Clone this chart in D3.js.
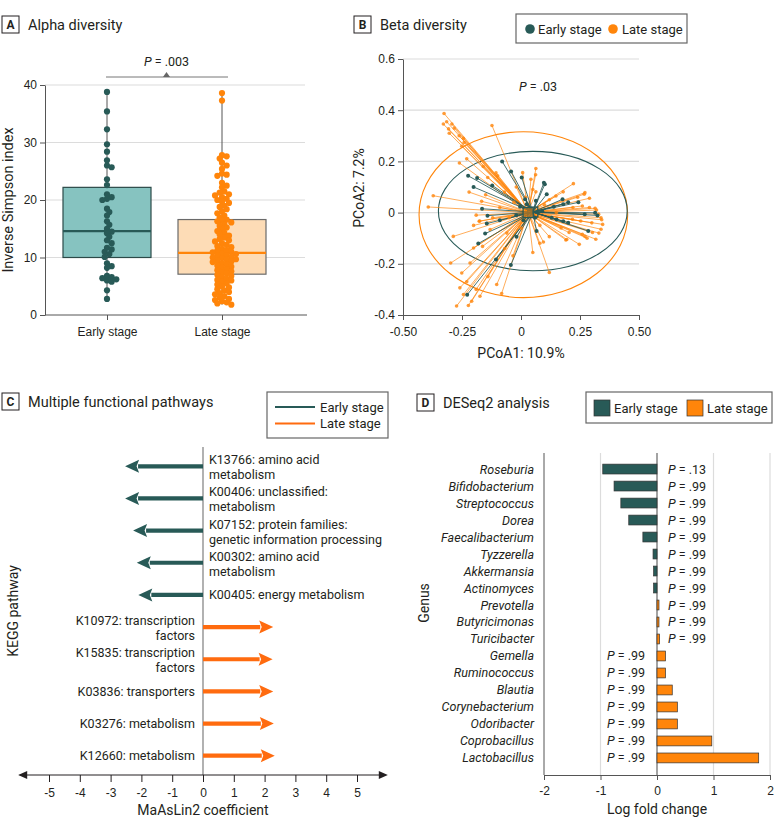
<!DOCTYPE html>
<html>
<head>
<meta charset="utf-8">
<script src="https://cdn.jsdelivr.net/npm/d3@7"></script>
<style>
  body { margin: 0; background: #fff; }
  svg { display: block; font-family: Roboto, "Liberation Sans", sans-serif; }
  .tick text { font-size: 12px; fill: #231f20; }
</style>
</head>
<body>
<svg id="fig" width="783" height="830"></svg>
<script>
// ---------- data ----------
// A: alpha diversity
const groups = ["Early stage", "Late stage"];
const earlySimpson = [38.8, 35.4, 32.3, 29.7, 28.4, 26.9, 26.0, 25.7, 23.6, 22.6, 21.0, 20.5, 20.2, 20.0,
  18.5, 17.9, 17.3, 16.3, 15.7, 15.0, 14.5, 14.2, 13.6, 13.0, 12.5, 11.7, 11.4, 11.0, 10.6, 10.1,
  9.0, 8.5, 8.2, 6.8, 6.6, 6.4, 6.2, 6.0, 5.8, 4.3, 2.8];
const lateSimpson = [38.6, 37.3, 27.8, 27.6, 27.2, 26.5, 26.0, 25.4, 24.6, 24.4, 24.2, 23.0, 22.5, 22.2,
  21.5, 21.3, 21.0, 20.8, 20.5, 20.2, 20.0, 19.7, 19.5, 19.0, 18.8, 18.4, 18.0, 17.7, 17.3, 17.0,
  16.6, 16.4, 16.3, 16.1, 15.8, 15.5, 15.2, 14.9, 14.6, 14.3, 14.0, 13.8, 13.5, 13.2, 13.0, 12.8,
  12.5, 12.2, 12.0, 11.8, 11.5, 11.3, 11.2, 11.0, 10.9, 10.7, 10.6, 10.4, 10.3, 10.1, 10.0, 9.9,
  9.7, 9.6, 9.5, 9.3, 9.2, 9.0, 8.8, 8.6, 8.4, 8.2, 8.0, 7.8, 7.6, 7.4, 7.2, 7.0, 6.8, 6.6, 6.3,
  6.1, 6.0, 5.8, 5.5, 5.3, 5.0, 4.8, 4.5, 4.3, 4.0, 3.8, 3.6, 3.3, 3.0, 2.8, 2.6, 2.4, 2.2, 2.0, 1.8];
const boxQ1 = [10.0, 7.1];
const boxMedian = [14.6, 10.8];
const boxQ3 = [22.2, 16.6];
const whiskerLow = [2.8, 1.8];
const whiskerHigh = [38.8, 38.6];
const alphaTicks = [0, 10, 20, 30, 40];

// B: beta diversity (PCoA1, PCoA2)
const earlyPoints = [[-0.080,0.200],[-0.042,0.161],[-0.224,0.144],[-0.186,0.135],[-0.122,0.106],[-0.201,0.100],
  [-0.165,0.015],[-0.142,-0.012],[-0.145,-0.043],[-0.152,-0.082],[-0.181,-0.121],[-0.106,-0.183],[-0.043,-0.205],
  [-0.019,-0.094],[-0.228,-0.321],[0.003,0.137],[0.097,0.117],[0.101,0.111],[0.109,0.072],[0.063,0.046],
  [0.139,0.023],[0.176,0.052],[0.200,0.040],[0.243,0.040],[0.179,0.033],[0.270,-0.006],[0.314,-0.001],
  [0.324,-0.011],[0.285,-0.072],[0.179,-0.034],[0.151,-0.027],[0.066,-0.072],[-0.004,0.023],[0.024,0.033],
  [0.017,0.052],[0.040,0.015],[0.060,-0.020],[-0.020,-0.010],[0.090,0.005],[0.130,-0.020],[0.010,-0.030],
  [-0.090,-0.030],[0.200,-0.040]];
const latePoints = [[-0.326,0.387],[-0.329,0.346],[-0.293,0.346],[-0.307,0.327],[-0.283,0.330],[-0.304,0.310],
  [-0.244,0.290],[-0.241,0.274],[-0.251,0.259],[-0.123,0.340],[-0.261,0.194],[-0.099,0.144],[-0.372,0.066],
  [-0.393,0.022],[-0.167,0.044],[-0.201,-0.050],[-0.177,-0.034],[-0.287,-0.093],[-0.298,-0.197],[-0.251,-0.236],
  [-0.216,-0.197],[-0.259,-0.294],[-0.244,-0.320],[-0.273,-0.365],[-0.223,-0.363],[-0.209,-0.346],[-0.174,-0.327],
  [-0.103,-0.281],[-0.082,-0.316],[-0.163,-0.132],[-0.201,-0.138],[-0.131,-0.066],[-0.106,0.155],[-0.141,0.137],
  [-0.175,-0.033],[-0.069,-0.140],[-0.034,-0.169],[0.050,-0.156],[0.120,-0.234],[0.095,-0.115],[0.120,-0.094],
  [0.190,-0.107],[0.204,-0.078],[0.247,-0.124],[0.260,-0.085],[0.303,-0.078],[0.317,-0.104],[0.339,-0.065],
  [0.346,-0.046],[0.342,-0.028],[0.339,-0.020],[0.329,-0.006],[0.314,0.017],[0.290,0.056],[0.268,0.072],
  [0.271,0.078],[0.222,0.113],[0.179,0.081],[0.148,0.065],[0.063,0.172],[0.007,0.156],[0.042,0.130],
  [0.062,0.148],[0.063,0.081],[0.253,-0.033],[0.218,-0.026],[0.290,0.020],[0.260,0.026],[0.194,-0.105],
  [0.271,-0.093],[0.020,0.060],[-0.030,0.040],[-0.050,-0.020],[0.080,-0.050],[0.100,0.030],[-0.070,0.080],
  [-0.090,0.020],[0.150,0.000],[0.120,0.050],[-0.120,-0.020],[0.000,-0.060],[0.050,0.090],[-0.020,0.100],
  [0.220,0.020],[0.170,-0.060],[-0.150,0.070],[-0.060,-0.080],[0.080,-0.120],[-0.220,0.080],[-0.190,-0.010],
  [-0.262,0.300],[-0.315,0.355],[-0.230,0.210],[-0.160,0.180],[0.300,-0.040],[0.320,0.010],[0.280,-0.100],
  [-0.230,-0.270],[-0.190,-0.300],[-0.140,-0.250],[0.330,-0.080],[0.240,0.060]];
const centroids = [[0.050, 0.002], [0.030, 0.000]];
const ellipseCx = [0.050, 0.010];
const ellipseCy = [0.006, -0.008];
const ellipseRx = [0.400, 0.442];
const ellipseRy = [0.233, 0.324];
const pcoaXTicks = [-0.5, -0.25, 0, 0.25, 0.5];
const pcoaYTicks = [-0.4, -0.2, 0, 0.2, 0.4, 0.6];

// C: MaAsLin2 pathways
const pathwayLabels = [["K13766: amino acid", "metabolism"], ["K00406: unclassified:", "metabolism"],
  ["K07152: protein families:", "genetic information processing"], ["K00302: amino acid", "metabolism"],
  ["K00405: energy metabolism"], ["K10972: transcription", "factors"], ["K15835: transcription", "factors"],
  ["K03836: transporters"], ["K03276: metabolism"], ["K12660: metabolism"]];
const pathwayCoef = [-2.53, -2.53, -2.27, -2.15, -2.10, 2.28, 2.26, 2.28, 2.30, 2.33];
const coefTicks = [-5, -4, -3, -2, -1, 0, 1, 2, 3, 4, 5];

// D: DESeq2
const genera = ["Roseburia", "Bifidobacterium", "Streptococcus", "Dorea", "Faecalibacterium", "Tyzzerella",
  "Akkermansia", "Actinomyces", "Prevotella", "Butyricimonas", "Turicibacter", "Gemella", "Ruminococcus",
  "Blautia", "Corynebacterium", "Odoribacter", "Coprobacillus", "Lactobacillus"];
const logFold = [-0.96, -0.76, -0.64, -0.50, -0.25, -0.07, -0.06, -0.06, 0.035, 0.035, 0.045,
  0.15, 0.15, 0.27, 0.36, 0.36, 0.97, 1.80];
const pValues = [".13", ".99", ".99", ".99", ".99", ".99", ".99", ".99", ".99", ".99", ".99",
  ".99", ".99", ".99", ".99", ".99", ".99", ".99"];
const foldTicks = [-2, -1, 0, 1, 2];

// ---------- style ----------
const teal = "#285a57", tealFill = "#86c3c0", orange = "#ff850a", peach = "#fddcb6";
const orangeC = "#ff6b0f", ink = "#231f20", grid = "#dcdcdc", axisCol = "#555";

const svg = d3.select("#fig");

function panelTag(x, y, letter, title) {
  const g = svg.append("g");
  g.append("rect").attr("x", x).attr("y", y).attr("width", 17).attr("height", 17)
    .attr("fill", "#fff").attr("stroke", ink).attr("stroke-width", 1);
  g.append("text").attr("x", x + 8.5).attr("y", y + 13).attr("text-anchor", "middle")
    .attr("font-size", 12).attr("font-weight", "bold").attr("fill", ink).text(letter);
  g.append("text").attr("x", x + 26).attr("y", y + 14).attr("font-size", 14.5).attr("fill", ink).text(title);
}
function styleAxis(g) {
  g.selectAll(".domain").attr("stroke", axisCol);
  g.selectAll(".tick line").attr("stroke", axisCol);
}
function pText(g, x, y, val, anchor) {
  const t = g.append("text").attr("x", x).attr("y", y).attr("font-size", 12.5)
    .attr("fill", ink).attr("text-anchor", anchor || "start");
  t.append("tspan").attr("font-style", "italic").text("P");
  t.append("tspan").text(" = " + val);
}

// ---------- Panel A ----------
panelTag(2, 16, "A", "Alpha diversity");
const yA = d3.scaleLinear().domain([0, 40]).range([315, 85]);
const xA = d3.scalePoint().domain(groups).range([107, 222]);
const gA = svg.append("g");
gA.selectAll(".gridA").data(alphaTicks.slice(1)).enter().append("line")
  .attr("x1", 45).attr("x2", 305).attr("y1", d => yA(d)).attr("y2", d => yA(d))
  .attr("stroke", grid).attr("stroke-width", 1.2);
const axA = gA.append("g").attr("transform", "translate(45,0)")
  .call(d3.axisLeft(yA).tickValues(alphaTicks).tickSize(5).tickSizeOuter(0));
axA.selectAll(".tick text").attr("font-size", 13);
styleAxis(axA);
const axAx = gA.append("g").attr("transform", "translate(0,315)")
  .call(d3.axisBottom(xA).tickSize(5).tickSizeOuter(0));
axAx.select(".domain").attr("d", "M45,0H307");
axAx.selectAll(".tick text").attr("font-size", 13).attr("dy", "1.05em");
styleAxis(axAx);
gA.append("text").attr("transform", "translate(13,200) rotate(-90)").attr("text-anchor", "middle")
  .attr("font-size", 14.5).attr("fill", ink).text("Inverse Simpson index");

const boxStroke = ["#2c4a48", "#6a6a6a"];
groups.forEach((grp, i) => {
  const cx = xA(grp);
  gA.append("line").attr("x1", cx).attr("x2", cx).attr("y1", yA(whiskerHigh[i])).attr("y2", yA(whiskerLow[i]))
    .attr("stroke", "#555").attr("stroke-width", 1);
  gA.append("rect").attr("x", cx - 44).attr("width", 88).attr("y", yA(boxQ3[i]))
    .attr("height", yA(boxQ1[i]) - yA(boxQ3[i])).attr("fill", i ? peach : tealFill)
    .attr("stroke", boxStroke[i]).attr("stroke-width", 1.2);
  gA.append("line").attr("x1", cx - 44).attr("x2", cx + 44).attr("y1", yA(boxMedian[i])).attr("y2", yA(boxMedian[i]))
    .attr("stroke", i ? orange : teal).attr("stroke-width", 2.2);
});

function swarm(values, r) {
  const placed = [];
  values.slice().sort((a, b) => b - a).forEach(v => {
    const py = yA(v);
    let k = 0, dx = 0;
    for (;;) {
      dx = (k % 2 === 1 ? 1 : -1) * Math.ceil(k / 2) * r * 0.75;
      if (!placed.some(p => Math.hypot(p.dx - dx, p.py - py) < r * 1.3)) break;
      k++;
    }
    placed.push({ dx, py });
  });
  return placed;
}
[earlySimpson, lateSimpson].forEach((vals, i) => {
  const cx = xA(groups[i]);
  gA.selectAll(".pt" + i).data(swarm(vals, 3.1)).enter().append("circle")
    .attr("cx", d => cx + d.dx).attr("cy", d => d.py).attr("r", 3.1)
    .attr("fill", i ? orange : teal);
});
// significance bracket
gA.append("line").attr("x1", xA(groups[0]) - 1).attr("x2", xA(groups[1]) + 6).attr("y1", 77).attr("y2", 77)
  .attr("stroke", "#777").attr("stroke-width", 1);
const midA = (xA(groups[0]) + xA(groups[1])) / 2 + 2;
gA.append("path").attr("d", `M${midA - 3.5},77L${midA + 3.5},77L${midA},72Z`).attr("fill", "#666");
pText(gA, midA, 66, ".003", "middle");

// ---------- Panel B ----------
panelTag(354, 16, "B", "Beta diversity");
const xB = d3.scaleLinear().domain([-0.5, 0.5]).range([403, 639]);
const yB = d3.scaleLinear().domain([-0.4, 0.6]).range([315, 59]);
const gB = svg.append("g");
gB.selectAll(".gridB").data(pcoaYTicks.slice(1)).enter().append("line")
  .attr("x1", 403).attr("x2", 639).attr("y1", d => yB(d)).attr("y2", d => yB(d))
  .attr("stroke", grid).attr("stroke-width", 1.2);
const fmtB = (d, n) => d === 0 ? "0" : d.toFixed(n);
const axBy = gB.append("g").attr("transform", "translate(403,0)")
  .call(d3.axisLeft(yB).tickValues(pcoaYTicks).tickSize(5).tickSizeOuter(0).tickFormat(d => fmtB(d, 1)));
axBy.selectAll(".tick text").attr("font-size", 13);
styleAxis(axBy);
const axBx = gB.append("g").attr("transform", "translate(0,315)")
  .call(d3.axisBottom(xB).tickValues(pcoaXTicks).tickSize(5).tickSizeOuter(0).tickFormat(d => fmtB(d, 2)));
axBx.selectAll(".tick text").attr("font-size", 13).attr("dy", "1.05em");
styleAxis(axBx);
gB.append("text").attr("x", 521).attr("y", 358).attr("text-anchor", "middle").attr("font-size", 14)
  .attr("fill", ink).text("PCoA1: 10.9%");
gB.append("text").attr("transform", "translate(364,188) rotate(-90)").attr("text-anchor", "middle")
  .attr("font-size", 14).attr("fill", ink).text("PCoA2: 7.2%");
pText(gB, 538, 91, ".03", "middle");

// ellipses
[1, 0].forEach(i => {
  gB.append("ellipse").attr("cx", xB(ellipseCx[i])).attr("cy", yB(ellipseCy[i]))
    .attr("rx", xB(ellipseRx[i]) - xB(0)).attr("ry", yB(0) - yB(ellipseRy[i]))
    .attr("fill", "none").attr("stroke", i ? orange : teal).attr("stroke-width", 1.1);
});
// spider lines + points
const spiders = [[latePoints, 1], [earlyPoints, 0]];
spiders.forEach(([pts, i]) => {
  const c = centroids[i], col = i ? orange : teal;
  gB.selectAll(".sp" + i).data(pts).enter().append("line")
    .attr("x1", xB(c[0])).attr("y1", yB(c[1])).attr("x2", d => xB(d[0])).attr("y2", d => yB(d[1]))
    .attr("stroke", col).attr("stroke-width", 0.9).attr("stroke-opacity", i ? 0.75 : 0.95);
});
spiders.forEach(([pts, i]) => {
  gB.selectAll(".bp" + i).data(pts).enter().append("circle")
    .attr("cx", d => xB(d[0])).attr("cy", d => yB(d[1])).attr("r", i ? 1.8 : 2)
    .attr("fill", i ? orange : teal).attr("fill-opacity", i ? 0.8 : 1);
});
centroids.forEach((c, i) => {
  const s = 5;
  gB.append("rect").attr("x", xB(c[0]) - s).attr("y", yB(c[1]) - s).attr("width", 2 * s).attr("height", 2 * s)
    .attr("fill", i ? orange : "none").attr("fill-opacity", 0.5).attr("stroke", teal).attr("stroke-width", 1.3);
});
// legend B
const lgB = svg.append("g");
lgB.append("rect").attr("x", 516).attr("y", 14).attr("width", 171).attr("height", 29)
  .attr("fill", "#fff").attr("stroke", "#666").attr("stroke-width", 1.2);
[[530, 538], [613, 622]].forEach((p, i) => {
  lgB.append("circle").attr("cx", p[0]).attr("cy", 29).attr("r", 4.8).attr("fill", i ? orange : teal);
  lgB.append("text").attr("x", p[1]).attr("y", 33.5).attr("font-size", 13).attr("fill", ink).text(groups[i]);
});

// ---------- Panel C ----------
panelTag(2, 393, "C", "Multiple functional pathways");
const xC = d3.scaleLinear().domain([-5, 5]).range([49, 357]);
const yC = d3.scalePoint().domain(d3.range(pathwayCoef.length)).range([447, 775]).padding(0.6);
const gC = svg.append("g");
gC.append("line").attr("x1", xC(0)).attr("x2", xC(0)).attr("y1", 447).attr("y2", 775)
  .attr("stroke", "#888").attr("stroke-width", 1.3);
const axC = gC.append("g").attr("transform", "translate(0,775)")
  .call(d3.axisBottom(xC).tickValues(coefTicks).tickSize(7).tickFormat(d => String(d)));
axC.select(".domain").remove();
axC.selectAll(".tick line").attr("stroke", ink);
axC.selectAll(".tick text").attr("font-size", 13).attr("dy", "1.0em");
gC.append("line").attr("x1", xC(-5.95)).attr("x2", xC(5.92)).attr("y1", 775).attr("y2", 775)
  .attr("stroke", ink).attr("stroke-width", 1);
[[-6, 1], [6, -1]].forEach(([v, s]) => {
  const x0 = xC(v);
  gC.append("path").attr("d", `M${x0},775L${x0 + s * 9},771L${x0 + s * 9},779Z`).attr("fill", ink);
});
gC.append("text").attr("x", xC(0)).attr("y", 815).attr("text-anchor", "middle").attr("font-size", 14)
  .attr("fill", ink).text("MaAsLin2 coefficient");
gC.append("text").attr("transform", "translate(18,611) rotate(-90)").attr("text-anchor", "middle")
  .attr("font-size", 14).attr("fill", ink).text("KEGG pathway");

pathwayCoef.forEach((v, i) => {
  const y = yC(i), col = v < 0 ? teal : orangeC, dir = v < 0 ? -1 : 1;
  const tip = xC(v), base = tip - dir * 14;
  gC.append("line").attr("x1", xC(0)).attr("x2", base + dir * 1).attr("y1", y).attr("y2", y)
    .attr("stroke", col).attr("stroke-width", 4.2);
  gC.append("path").attr("d", `M${tip},${y}L${base},${y - 6.5}L${base + dir * 2.5},${y}L${base},${y + 6.5}Z`)
    .attr("fill", col);
  const lines = pathwayLabels[i];
  const lx = v < 0 ? xC(0) + 6 : xC(0) - 8;
  lines.forEach((t, j) => {
    const cy = lines.length === 1 ? y : y + (j === 0 ? -6.5 : 8.5);
    gC.append("text").attr("x", lx).attr("y", cy + 4.5).attr("font-size", 12.5)
      .attr("text-anchor", v < 0 ? "start" : "end").attr("fill", ink).text(t);
  });
});
// legend C
const lgC = svg.append("g");
lgC.append("rect").attr("x", 267).attr("y", 392).attr("width", 121).attr("height", 46)
  .attr("fill", "#fff").attr("stroke", "#666").attr("stroke-width", 1.2);
groups.forEach((grp, i) => {
  const y = 407 + i * 16.5;
  lgC.append("line").attr("x1", 275).attr("x2", 315).attr("y1", y).attr("y2", y)
    .attr("stroke", i ? orangeC : teal).attr("stroke-width", 1.8);
  lgC.append("text").attr("x", 320).attr("y", y + 4.5).attr("font-size", 13).attr("fill", ink).text(grp);
});

// ---------- Panel D ----------
panelTag(417, 394, "D", "DESeq2 analysis");
const xD = d3.scaleLinear().domain([-2, 2]).range([544, 770]);
const yD = d3.scaleBand().domain(genera).range([457, 770]).padding(0.42);
const gD = svg.append("g");
gD.selectAll(".gridD").data(foldTicks.slice(1)).enter().append("line")
  .attr("x1", d => xD(d)).attr("x2", d => xD(d)).attr("y1", 453).attr("y2", 775)
  .attr("stroke", d => d === 0 ? "#666" : grid).attr("stroke-width", 1.2);
gD.append("line").attr("x1", 544).attr("x2", 544).attr("y1", 453).attr("y2", 775).attr("stroke", axisCol);
const axD = gD.append("g").attr("transform", "translate(0,775)")
  .call(d3.axisBottom(xD).tickValues(foldTicks).tickSize(5).tickSizeOuter(0).tickFormat(d => String(d)));
axD.selectAll(".tick text").attr("font-size", 13).attr("dy", "1.0em");
styleAxis(axD);
gD.append("text").attr("x", xD(0)).attr("y", 814).attr("text-anchor", "middle").attr("font-size", 14)
  .attr("fill", ink).text("Log fold change");
gD.append("text").attr("transform", "translate(429,603) rotate(-90)").attr("text-anchor", "middle")
  .attr("font-size", 14).attr("fill", ink).text("Genus");
genera.forEach((g, i) => {
  const v = logFold[i], y = yD(g);
  gD.append("rect").attr("x", xD(Math.min(0, v))).attr("width", Math.abs(xD(v) - xD(0)))
    .attr("y", y).attr("height", yD.bandwidth()).attr("fill", v < 0 ? teal : orange)
    .attr("stroke", "#333").attr("stroke-width", 0.7);
  gD.append("text").attr("x", 534).attr("y", y + yD.bandwidth() / 2 + 4.5).attr("text-anchor", "end")
    .attr("font-size", 12.5).attr("font-style", "italic").attr("fill", ink).text(g);
  if (v < 0.1) pText(gD, xD(0) + 11, y + yD.bandwidth() / 2 + 4.5, pValues[i], "start");
  else pText(gD, xD(0) - 12, y + yD.bandwidth() / 2 + 4.5, pValues[i], "end");
});
// legend D
const lgD = svg.append("g");
lgD.append("rect").attr("x", 586).attr("y", 392).attr("width", 186).attr("height", 31)
  .attr("fill", "#fff").attr("stroke", "#666").attr("stroke-width", 1.2);
[[594, 614], [687, 707]].forEach((p, i) => {
  lgD.append("rect").attr("x", p[0]).attr("y", 400).attr("width", 16).attr("height", 16)
    .attr("fill", i ? orange : teal).attr("stroke", "#333").attr("stroke-width", 0.7);
  lgD.append("text").attr("x", p[1]).attr("y", 412.5).attr("font-size", 13).attr("fill", ink).text(groups[i]);
});
</script>
</body>
</html>
